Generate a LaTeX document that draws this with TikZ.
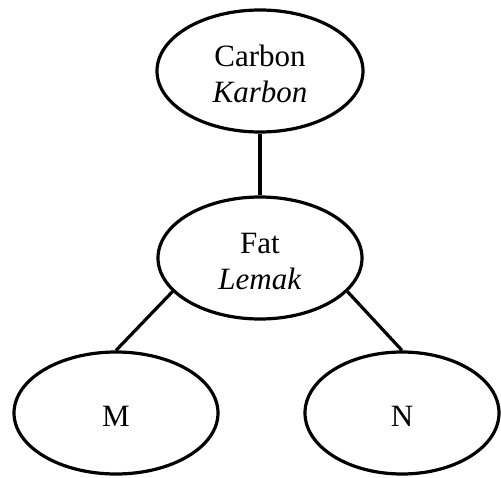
\documentclass[tikz,border=0pt]{standalone}
\usepackage{fontspec}
\setmainfont{Liberation Serif}
\usepackage{tikz}
\usetikzlibrary{shapes.geometric,positioning}
\tikzset{
    blob/.style={ellipse, draw=black, line width=3.2pt, inner sep=0pt,
        minimum width=204pt, minimum height=122pt,
        font=\fontsize{31}{36}\selectfont},
    link/.style={line width=3.2pt, black}
}
\newcommand{\twoline}[2]{\raisebox{-6pt}[\height][\depth]{\begin{tabular}{@{}c@{}}#1\\\textit{#2}\end{tabular}}}
\newcommand{\oneline}[1]{\raisebox{-3pt}[\height][\depth]{#1}}

\begin{document}
\begin{tikzpicture}[x=1pt,y=-1pt]
    \useasboundingbox (0,0) rectangle (501,477);

    % Top concept
    \node[blob, minimum width=206pt] (carbon) at (260,71) {\twoline{Carbon}{Karbon}};

    % Middle concept
    \node[blob] (fat) at (260,258) {\twoline{Fat}{Lemak}};

    % Branches
    \node[blob] (m) at (116,413) {\oneline{M}};
    \node[blob, minimum width=194pt] (n) at (402,413) {\oneline{N}};

    % Connectors
    \draw[link] (carbon.south) -- (fat.north);
    \draw[link] (fat.201) -- (m.north);
    \draw[link] (fat.339) -- (n.north);

\end{tikzpicture}
\end{document}
